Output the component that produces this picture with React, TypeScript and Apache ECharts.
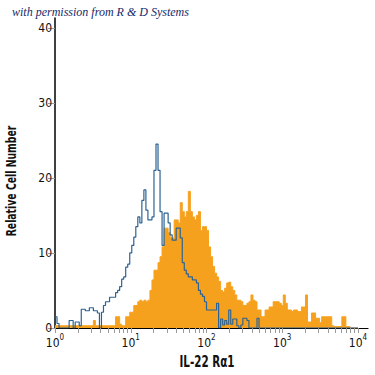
import React, { useEffect, useRef } from "react";
import * as echarts from "echarts";

// Histogram bins: 150 log-spaced channels over 4 decades (10^0 .. 10^4)
const BIN_COUNT = 150;
const DECADES = 4;

// Isotype control (blue outline)
const controlCounts = [
  1.5, 0.6, 0, 0, 0, 0, 0, 1, 1, 0,
  0.8, 0.8, 0.3, 2.5, 2.5, 2.3, 2.3, 2.7, 2.7, 2.3,
  2.3, 2, 0, 2.1, 3, 3.5, 3.5, 4.1, 4.1, 4.1,
  4.7, 5, 5.5, 6.5, 6.8, 8.1, 8.5, 10, 11, 12.1,
  13.5, 14.8, 14, 17, 18.4, 15.7, 14.4, 14.4, 14.8, 21,
  24.5, 21, 15.5, 11, 15.3, 15.3, 14, 12.4, 11.7, 11.7,
  13.3, 13.3, 12, 8.7, 7.7, 7.2, 6.8, 6.8, 6.4, 6.4,
  6, 5, 4.5, 4.2, 3.5, 2.4, 2.4, 2.4, 2.4, 2.4,
  3.3, 0, 1.2, 0.4, 1, 0.5, 2.4, 0.5, 1.2, 1.2,
  0.3, 0, 0.4, 1.3, 1.3, 1, 0, 0, 0, 0,
  1.3, 0, 0, 0, 0, 0, 0, 0, 0, 0,
  0, 0, 0, 0, 0, 0, 0, 0, 0, 0,
  0, 0, 0, 0, 0, 0, 0, 0, 0, 0,
  0, 0, 0, 0, 0, 0, 0, 0, 0, 0,
  0, 0, 0, 0, 0, 0, 0, 0, 0, 0,
];

// IL-22 Ra1 stained (orange filled)
const stainedCounts = [
  0.3, 0.3, 0.3, 0.3, 0.3, 0.3, 0.3, 0.3, 0.3, 0.3,
  0.3, 0.3, 0.3, 0.3, 0.3, 0.3, 0.3, 0.3, 0.3, 1.0,
  0.3, 0.3, 0.3, 0.3, 0.3, 0.3, 0.3, 0.3, 0.3, 0.3,
  1.5, 1.5, 0.5, 0.3, 0.3, 1.5, 1.5, 2.1, 2.1, 3,
  3, 3.5, 3.7, 3.5, 3.7, 3.5, 3.7, 5, 6.4, 7.7,
  7.7, 8.7, 9.5, 10.8, 13.3, 13.3, 12.7, 12, 12, 14.4,
  14.4, 14, 16.7, 15.5, 14.8, 15.5, 18.2, 15.5, 14.8, 14.4,
  15, 15.5, 13, 13.5, 13.5, 13, 10.8, 9.5, 8.2, 7.3,
  6.8, 6.2, 5, 4.8, 5.3, 6, 6.1, 5.5, 5, 4.4,
  3.7, 3.7, 3.5, 3, 3, 3.3, 3.5, 4.4, 3.7, 3.5,
  2.4, 2.4, 1.5, 1.5, 2.4, 2.4, 2.8, 2.8, 3.5, 3.5,
  3.5, 3.3, 3, 4.4, 3.3, 2.4, 2.4, 2.2, 2.4, 2.4,
  2.2, 2.2, 2.8, 2.8, 4.4, 0.8, 0.8, 2, 2, 1.3,
  1.3, 0.7, 1.5, 1.5, 1.5, 1.5, 1.5, 0.3, 0.2, 0.2,
  0.2, 0.2, 1.5, 1.5, 0.2, 0.2, 0, 0, 0, 0,
];

const yTickValues = [0, 10, 20, 30, 40];
const xLabelValues = [1, 10, 100, 1000, 10000];
const xTickValues: number[] = [];
for (let k = 0; k < DECADES; k++) {
  for (let m = 1; m <= 9; m++) xTickValues.push(m * Math.pow(10, k));
}
xTickValues.push(10000);

const xAxisTitle = "IL-22 Rα1";
const yAxisTitle = "Relative Cell Number";
const creditText = "with permission from R & D Systems";

const binEdge = (i: number) => Math.pow(10, (i * DECADES) / BIN_COUNT);
const toSteps = (counts: number[]) => {
  const pts = counts.map((c, i) => [binEdge(i), c]);
  pts.push([binEdge(counts.length), counts[counts.length - 1]]);
  return pts;
};

const FONT = "'Liberation Sans Narrow', 'DejaVu Sans Condensed', sans-serif";

export default function App() {
  const ref = useRef<HTMLDivElement>(null);
  useEffect(() => {
    if (!ref.current) return;
    const chart = echarts.init(ref.current, null, { renderer: "svg" });
    chart.setOption({
      animation: false,
      backgroundColor: "#ffffff",
      grid: { left: 55, right: 7, top: 18, bottom: 47 },
      graphic: [
        {
          type: "text",
          left: 12,
          top: 6,
          style: {
            text: creditText,
            font: "italic 12px 'Liberation Serif', serif",
            fill: "#15296b",
          },
        },
        {
          type: "text",
          x: 207,
          y: 361,
          scaleX: 0.72,
          style: {
            text: xAxisTitle,
            font: `bold 16px ${FONT}`,
            fill: "#111",
            align: "center",
            verticalAlign: "middle",
          },
        },
        {
          type: "text",
          x: 11,
          y: 181,
          rotation: Math.PI / 2,
          scaleX: 0.74,
          style: {
            text: yAxisTitle,
            font: `bold 14px ${FONT}`,
            fill: "#111",
            align: "center",
            verticalAlign: "middle",
          },
        },
      ],
      xAxis: {
        type: "log",
        logBase: 10,
        min: 1,
        max: 13550,
        axisLine: { lineStyle: { color: "#000", width: 1.2 } },
        axisTick: {
          customValues: xTickValues,
          length: 5,
          lineStyle: { color: "#9a9a9a", width: 1 },
        },
        axisLabel: {
          customValues: xLabelValues,
          margin: 5,
          formatter: (v: number) => `{b|10}{s|${Math.round(Math.log10(v))}}`,
          rich: {
            b: { fontFamily: FONT, fontSize: 12, color: "#111", lineHeight: 16, verticalAlign: "bottom" },
            s: { fontFamily: FONT, fontSize: 8, color: "#111", lineHeight: 9, verticalAlign: "top" },
          },
        },
        splitLine: { show: false },
      },
      yAxis: {
        type: "value",
        min: 0,
        max: 41.3,
        axisLine: { show: true, lineStyle: { color: "#000", width: 1.5 } },
        axisTick: {
          show: true,
          customValues: yTickValues,
          length: 7,
          lineStyle: { color: "#9a9a9a", width: 1 },
        },
        axisLabel: {
          customValues: yTickValues,
          margin: 3,
          fontFamily: FONT,
          fontSize: 12,
          color: "#111",
        },
        splitLine: { show: false },
      },
      series: [
        {
          type: "line",
          name: "IL-22 Rα1",
          data: toSteps(stainedCounts),
          step: "end",
          symbol: "none",
          lineStyle: { color: "#f6a11e", width: 1 },
          areaStyle: { color: "#f6a11e", opacity: 1 },
          z: 2,
        },
        {
          type: "line",
          name: "Isotype",
          data: toSteps(controlCounts),
          step: "end",
          symbol: "none",
          lineStyle: { color: "#2d6394", width: 1.2 },
          z: 3,
        },
      ],
    });
    return () => chart.dispose();
  }, []);
  return (
    <div
      ref={ref}
      style={{ position: "absolute", left: 0, top: 0, width: 375, height: 375 }}
    />
  );
}
